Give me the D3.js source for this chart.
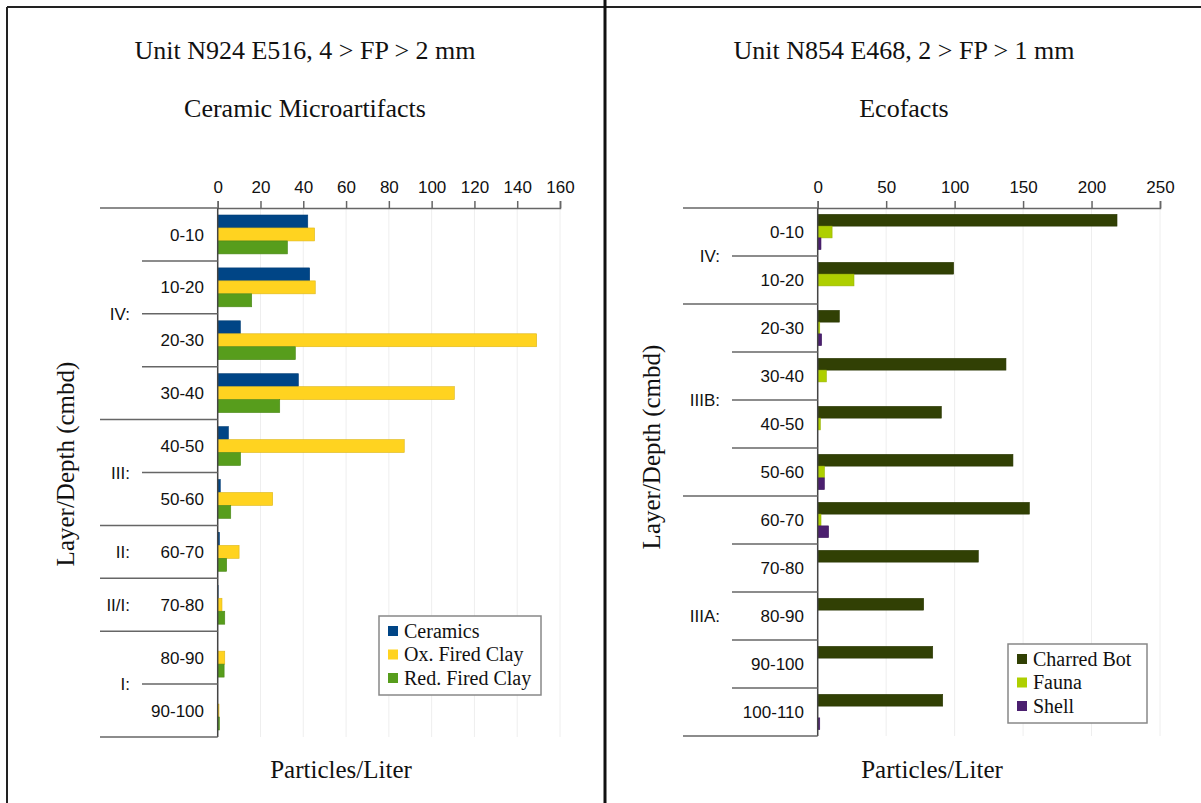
<!DOCTYPE html>
<html>
<head>
<meta charset="utf-8">
<title>Microartifacts and Ecofacts</title>
<script src="https://d3js.org/d3.v7.min.js"></script>
<style>
    body { margin: 0; background: #fff; }
    svg { display: block; }
    .serif { font-family: "Liberation Serif", "DejaVu Serif", serif; fill: #111; }
    .sans { font-family: "Liberation Sans", Arial, sans-serif; fill: #111; }
</style>
</head>
<body>
<svg id="chart"></svg>
<script>
    const width = 1201;
    const height = 803;

    // ---- left panel data: Unit N924 E516 ----
    const depthsA = ["0-10", "10-20", "20-30", "30-40", "40-50", "50-60", "60-70", "70-80", "80-90", "90-100"];
    const ceramics = [42.1, 43.0, 10.6, 37.7, 5.0, 1.2, 0.8, 0.2, 0, 0];
    const oxFiredClay = [45.3, 45.6, 149.1, 110.6, 87.2, 25.7, 10.0, 2.0, 3.3, 0.6];
    const redFiredClay = [32.6, 15.9, 36.3, 29.0, 10.7, 6.1, 4.2, 3.3, 3.0, 0.8];
    const layersA = ["IV:", "III:", "II:", "II/I:", "I:"];
    const layerSizesA = [4, 2, 1, 1, 2];
    const seriesNamesA = ["Ceramics", "Ox. Fired Clay", "Red. Fired Clay"];

    // ---- right panel data: Unit N854 E468 ----
    const depthsB = ["0-10", "10-20", "20-30", "30-40", "40-50", "50-60", "60-70", "70-80", "80-90", "90-100", "100-110"];
    const charredBot = [218.6, 99.3, 15.8, 137.5, 90.3, 142.6, 154.6, 117.3, 77.4, 84.0, 91.3];
    const fauna = [10.5, 26.5, 1.5, 6.3, 1.9, 4.9, 2.4, 0, 0, 0, 0];
    const shell = [2.4, 0, 2.9, 0, 0, 4.9, 8.0, 0, 0, 0, 1.5];
    const layersB = ["IV:", "IIIB:", "IIIA:"];
    const layerSizesB = [2, 4, 5];
    const seriesNamesB = ["Charred Bot", "Fauna", "Shell"];

    const svg = d3.select("#chart")
        .attr("width", width)
        .attr("height", height);

    svg.append("rect").attr("width", width).attr("height", height).attr("fill", "#fff");

    // frame lines
    svg.append("line").attr("x1", 7).attr("x2", width).attr("y1", 7).attr("y2", 7)
        .attr("stroke", "#222").attr("stroke-width", 2);
    svg.append("line").attr("x1", 7).attr("x2", 7).attr("y1", 7).attr("y2", height)
        .attr("stroke", "#222").attr("stroke-width", 2);
    svg.append("line").attr("x1", 605).attr("x2", 605).attr("y1", 0).attr("y2", height)
        .attr("stroke", "#111").attr("stroke-width", 3);

    function drawPanel(p) {
        const x = d3.scaleLinear().domain(p.domain).range([p.x0, p.x1]);
        const y = d3.scaleBand().domain(p.depths).range([p.y0, p.y1]);
        const sub = d3.scaleBand().domain(p.names).range([0, y.bandwidth()]).paddingOuter(0.54);

        const g = svg.append("g");

        // titles
        g.append("text").attr("class", "serif")
            .attr("x", p.titleX).attr("y", 59)
            .attr("text-anchor", "middle").style("font-size", "26px")
            .text(p.title);
        g.append("text").attr("class", "serif")
            .attr("x", p.titleX).attr("y", 117)
            .attr("text-anchor", "middle").style("font-size", "26px")
            .text(p.subtitle);
        g.append("text").attr("class", "serif")
            .attr("x", p.xTitleX).attr("y", 778)
            .attr("text-anchor", "middle").style("font-size", "25px")
            .text("Particles/Liter");
        g.append("text").attr("class", "serif")
            .attr("transform", `translate(${p.yTitleX},${p.yTitleY}) rotate(-90)`)
            .attr("text-anchor", "middle").attr("dy", "0.35em").style("font-size", "25px")
            .text("Layer/Depth (cmbd)");

        // grid
        g.append("g").selectAll("line")
            .data(x.ticks(p.nTicks))
            .enter().append("line")
            .attr("x1", d => x(d)).attr("x2", d => x(d))
            .attr("y1", p.y0).attr("y2", p.y1)
            .attr("stroke", "#eeeeee").attr("stroke-width", 1);

        // bars
        const rows = p.depths.map((d, i) => ({ depth: d, values: p.series.map((s, j) => ({ name: p.names[j], v: s[i], c: p.colors[j] })) }));
        const rowG = g.append("g").selectAll("g")
            .data(rows)
            .enter().append("g")
            .attr("transform", d => `translate(0,${y(d.depth)})`);
        rowG.selectAll("rect")
            .data(d => d.values.filter(v => v.v > 0))
            .enter().append("rect")
            .attr("x", x(0))
            .attr("y", d => sub(d.name))
            .attr("width", d => x(d.v) - x(0))
            .attr("height", sub.bandwidth())
            .attr("fill", d => d.c)
            .attr("stroke", d => d3.color(d.c).darker(0.4))
            .attr("stroke-width", 0.6);

        // top axis
        const axis = g.append("g")
            .attr("transform", `translate(0,${p.y0})`)
            .call(d3.axisTop(x).ticks(p.nTicks).tickSize(7).tickSizeOuter(7).tickPadding(8));
        axis.select(".domain").attr("stroke", "#666").attr("stroke-width", 1.5);
        axis.selectAll(".tick line").attr("stroke", "#666").attr("stroke-width", 1.5);
        axis.selectAll(".tick text")
            .attr("class", "sans").style("font-size", "17px").attr("fill", "#111");

        // vertical axis line
        g.append("line")
            .attr("x1", x(0)).attr("x2", x(0)).attr("y1", p.y0).attr("y2", p.y1)
            .attr("stroke", "#444").attr("stroke-width", 1.5);

        // category separators
        const groupEnds = Array.from(d3.cumsum(p.layerSizes));
        const bounds = d3.range(p.depths.length + 1);
        g.append("g").selectAll("line")
            .data(bounds)
            .enter().append("line")
            .attr("x1", i => (i === 0 || groupEnds.includes(i)) ? p.longX : p.shortX)
            .attr("x2", x(0))
            .attr("y1", i => p.y0 + i * y.step())
            .attr("y2", i => p.y0 + i * y.step())
            .attr("stroke", "#666").attr("stroke-width", 1.5);

        // depth labels
        g.append("g").selectAll("text")
            .data(p.depths)
            .enter().append("text")
            .attr("class", "sans")
            .attr("x", p.depthX)
            .attr("y", d => y(d) + y.bandwidth() / 2)
            .attr("dy", "0.36em")
            .attr("text-anchor", "end")
            .style("font-size", "17px")
            .text(d => d);

        // layer labels
        const starts = [0].concat(groupEnds.slice(0, -1));
        g.append("g").selectAll("text")
            .data(p.layers)
            .enter().append("text")
            .attr("class", "sans")
            .attr("x", p.layerX)
            .attr("y", (d, i) => p.y0 + (starts[i] + p.layerSizes[i] / 2) * y.step())
            .attr("dy", "0.36em")
            .attr("text-anchor", "end")
            .style("font-size", "17px")
            .text(d => d);

        // legend
        const lg = g.append("g").attr("transform", `translate(${p.legX},${p.legY})`);
        lg.append("rect")
            .attr("width", p.legW).attr("height", 79)
            .attr("fill", "#fff").attr("stroke", "#888").attr("stroke-width", 1.5);
        const item = lg.selectAll("g")
            .data(p.names)
            .enter().append("g")
            .attr("transform", (d, i) => `translate(9,${15 + i * 23.5})`);
        item.append("rect")
            .attr("x", 0).attr("y", -5).attr("width", 10).attr("height", 10)
            .attr("fill", (d, i) => p.colors[i]);
        item.append("text")
            .attr("class", "serif")
            .attr("x", 16).attr("dy", "0.33em")
            .style("font-size", "20px")
            .text(d => d);
    }

    drawPanel({
        title: "Unit N924 E516, 4 > FP > 2 mm",
        subtitle: "Ceramic Microartifacts",
        depths: depthsA,
        series: [ceramics, oxFiredClay, redFiredClay],
        names: seriesNamesA,
        colors: ["#004586", "#ffd320", "#579d1c"],
        layers: layersA,
        layerSizes: layerSizesA,
        domain: [0, 160], nTicks: 8,
        x0: 217.7, x1: 560, y0: 208, y1: 737,
        titleX: 305, xTitleX: 341, yTitleX: 65, yTitleY: 464,
        longX: 100, shortX: 142, depthX: 204, layerX: 130,
        legX: 379, legY: 616, legW: 162
    });

    drawPanel({
        title: "Unit N854 E468, 2 > FP > 1 mm",
        subtitle: "Ecofacts",
        depths: depthsB,
        series: [charredBot, fauna, shell],
        names: seriesNamesB,
        colors: ["#314004", "#aecf00", "#4b1f6f"],
        layers: layersB,
        layerSizes: layerSizesB,
        domain: [0, 250], nTicks: 5,
        x0: 817.7, x1: 1160, y0: 208, y1: 736,
        titleX: 904, xTitleX: 932, yTitleX: 651, yTitleY: 447,
        longX: 683, shortX: 732, depthX: 804, layerX: 720,
        legX: 1008, legY: 644, legW: 139
    });
</script>
</body>
</html>
